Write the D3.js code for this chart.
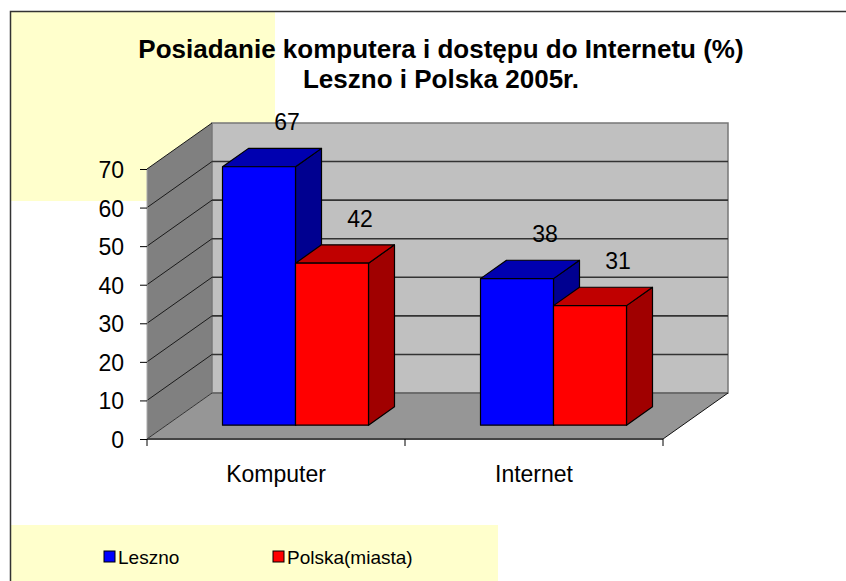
<!DOCTYPE html>
<html>
<head>
<meta charset="utf-8">
<script src="https://cdn.jsdelivr.net/npm/d3@7"></script>
<style>
  body { margin: 0; background: #fff; }
  text { font-family: "Liberation Sans", Arial, sans-serif; fill: #000; }
  .axis path { display: none; }
  .axis line { stroke: #000; }
</style>
</head>
<body>
<script>
// Chart data
var categories = ["Komputer", "Internet"];
var seriesNames = ["Leszno", "Polska(miasta)"];
var leszno = [67, 38];
var polska = [42, 31];
var yTicks = [0, 10, 20, 30, 40, 50, 60, 70];

var seriesValues = [leszno, polska];
var faceColors = [
  {front: "#0000ff", top: "#0000b0", side: "#000090"},
  {front: "#ff0000", top: "#c00000", side: "#a00000"}
];

var width = 846, height = 581;

// front plane of the 3D box, and depth offset of the back wall
var plot = {left: 147, right: 663, bottom: 439, top: 169},
    depth = {dx: 65, dy: 46},
    barDepth = [0.3, 0.7];

var xScale = d3.scaleBand().domain(categories).range([plot.left, plot.right]);
var groupWidth = 146;
var xInner = d3.scaleBand().domain(seriesNames)
    .range([(xScale.bandwidth() - groupWidth) / 2, (xScale.bandwidth() + groupWidth) / 2]);
var yScale = d3.scaleLinear().domain([0, 70]).range([plot.bottom, plot.top]);

// project a point (front-plane x, value, depth 0..1) to the screen
function proj(x, v, z) {
  return [x + z * depth.dx, yScale(v) - z * depth.dy];
}
function poly(pts) {
  return "M" + pts.map(function(p) { return p.join(","); }).join("L") + "Z";
}

var svg = d3.select("body").append("svg")
    .attr("width", width)
    .attr("height", height);

svg.append("rect").attr("width", width).attr("height", height).attr("fill", "#fff");

// pale yellow patches behind title corner and legend
svg.append("rect").attr("x", 10).attr("y", 11).attr("width", 265).attr("height", 190).attr("fill", "#ffffcc");
svg.append("rect").attr("x", 10).attr("y", 525).attr("width", 488).attr("height", 56).attr("fill", "#ffffcc");

// outer border
svg.append("path")
    .attr("d", "M10.5," + height + "V11.5H" + width)
    .attr("fill", "none").attr("stroke", "#333").attr("stroke-width", 1.5);

// walls and floor
var x0 = plot.left, x1 = plot.right, vTop = yTicks[yTicks.length - 1];

svg.append("path")
    .attr("d", poly([proj(x0, 0, 0), proj(x0, vTop, 0), proj(x0, vTop, 1), proj(x0, 0, 1)]))
    .attr("fill", "#808080");

svg.append("path")
    .attr("d", poly([proj(x0, 0, 0), proj(x1, 0, 0), proj(x1, 0, 1), proj(x0, 0, 1)]))
    .attr("fill", "#969696");

svg.append("path")
    .attr("d", poly([proj(x0, 0, 1), proj(x1, 0, 1), proj(x1, vTop, 1), proj(x0, vTop, 1)]))
    .attr("fill", "#c0c0c0")
    .attr("stroke", "#777").attr("stroke-width", 1.5);

// gridlines on back wall
svg.selectAll(".grid-back")
    .data(yTicks.filter(function(d) { return d > 0 && d < vTop; }))
  .enter().append("line")
    .attr("class", "grid-back")
    .attr("x1", function(d) { return proj(x0, d, 1)[0]; })
    .attr("y1", function(d) { return proj(x0, d, 1)[1]; })
    .attr("x2", function(d) { return proj(x1, d, 1)[0]; })
    .attr("y2", function(d) { return proj(x1, d, 1)[1]; })
    .attr("stroke", "#333").attr("stroke-width", 1.6);

// gridlines on side wall
svg.selectAll(".grid-side")
    .data(yTicks.filter(function(d) { return d > 0; }))
  .enter().append("line")
    .attr("class", "grid-side")
    .attr("x1", function(d) { return proj(x0, d, 0)[0]; })
    .attr("y1", function(d) { return proj(x0, d, 0)[1]; })
    .attr("x2", function(d) { return proj(x0, d, 1)[0]; })
    .attr("y2", function(d) { return proj(x0, d, 1)[1]; })
    .attr("stroke", "#1a1a1a").attr("stroke-width", 1);

// floor edges
svg.append("line")
    .attr("x1", proj(x0, 0, 1)[0]).attr("y1", proj(x0, 0, 1)[1])
    .attr("x2", proj(x1, 0, 1)[0]).attr("y2", proj(x1, 0, 1)[1])
    .attr("stroke", "#666").attr("stroke-width", 1.5);
svg.append("line")
    .attr("x1", proj(x0, 0, 0)[0]).attr("y1", proj(x0, 0, 0)[1])
    .attr("x2", proj(x0, 0, 1)[0]).attr("y2", proj(x0, 0, 1)[1])
    .attr("stroke", "#333").attr("stroke-width", 1);
svg.append("line")
    .attr("x1", proj(x1, 0, 0)[0]).attr("y1", proj(x1, 0, 0)[1])
    .attr("x2", proj(x1, 0, 1)[0]).attr("y2", proj(x1, 0, 1)[1])
    .attr("stroke", "#111").attr("stroke-width", 1);

// bars
var bars = [];
categories.forEach(function(c, i) {
  seriesNames.forEach(function(s, j) {
    bars.push({cat: c, series: j, value: seriesValues[j][i],
               x0: xScale(c) + xInner(s), x1: xScale(c) + xInner(s) + xInner.bandwidth()});
  });
});

var barG = svg.selectAll(".bar").data(bars).enter().append("g").attr("class", "bar");
var za = barDepth[0], zb = barDepth[1];

barG.append("path")
    .attr("d", function(d) { return poly([proj(d.x1, 0, za), proj(d.x1, 0, zb), proj(d.x1, d.value, zb), proj(d.x1, d.value, za)]); })
    .attr("fill", function(d) { return faceColors[d.series].side; });
barG.append("path")
    .attr("d", function(d) { return poly([proj(d.x0, d.value, za), proj(d.x1, d.value, za), proj(d.x1, d.value, zb), proj(d.x0, d.value, zb)]); })
    .attr("fill", function(d) { return faceColors[d.series].top; });
barG.append("path")
    .attr("d", function(d) { return poly([proj(d.x0, 0, za), proj(d.x1, 0, za), proj(d.x1, d.value, za), proj(d.x0, d.value, za)]); })
    .attr("fill", function(d) { return faceColors[d.series].front; });
barG.selectAll("path")
    .attr("stroke", "#000").attr("stroke-width", 1.2).attr("stroke-linejoin", "round");

// data labels
svg.selectAll(".label")
    .data(bars)
  .enter().append("text")
    .attr("class", "label")
    .attr("x", function(d) { return proj((d.x0 + d.x1) / 2, d.value, zb)[0] + 2; })
    .attr("y", function(d) { return proj((d.x0 + d.x1) / 2, d.value, zb)[1] - 18; })
    .attr("text-anchor", "middle")
    .style("font-size", "23px")
    .text(function(d) { return d.value; });

// y axis on the front plane
svg.append("line")
    .attr("x1", x0).attr("y1", yScale(0)).attr("x2", x0).attr("y2", yScale(vTop))
    .attr("stroke", "#aaa").attr("stroke-width", 1);
svg.append("g")
    .attr("class", "axis")
    .attr("transform", "translate(" + x0 + ",0)")
    .call(d3.axisLeft(yScale).tickValues(yTicks).tickSize(7).tickPadding(16))
    .selectAll("text")
    .style("font-size", "23px")
    .attr("dy", "0.37em");

// x axis: front floor edge, boundary ticks and category labels
svg.append("line")
    .attr("x1", x0).attr("y1", plot.bottom).attr("x2", x1).attr("y2", plot.bottom)
    .attr("stroke", "#444").attr("stroke-width", 2);
var bounds = categories.map(function(c) { return xScale(c); }).concat([x1]);
svg.selectAll(".xtick")
    .data(bounds)
  .enter().append("line")
    .attr("class", "xtick")
    .attr("x1", function(d) { return d; }).attr("x2", function(d) { return d; })
    .attr("y1", plot.bottom).attr("y2", plot.bottom + 7)
    .attr("stroke", "#000");
svg.append("g")
    .attr("class", "axis")
    .attr("transform", "translate(0," + plot.bottom + ")")
    .call(d3.axisBottom(xScale).tickSize(0).tickPadding(27))
    .selectAll("text")
    .style("font-size", "23px");

// title
var title = svg.append("text")
    .attr("x", 441).attr("y", 58)
    .attr("text-anchor", "middle")
    .style("font-size", "26px")
    .style("font-weight", "bold");
title.append("tspan").attr("x", 441).text("Posiadanie komputera i dostępu do Internetu (%)");
title.append("tspan").attr("x", 441).attr("dy", 30).text("Leszno i Polska 2005r.");

// legend
var legendX = [104, 273];
var legend = svg.selectAll(".legend")
    .data(seriesNames)
  .enter().append("g")
    .attr("class", "legend")
    .attr("transform", function(d, i) { return "translate(" + legendX[i] + ",551)"; });
legend.append("rect")
    .attr("width", 11).attr("height", 11)
    .attr("fill", function(d, i) { return faceColors[i].front; })
    .attr("stroke", "#000").attr("stroke-width", 1);
legend.append("text")
    .attr("x", 14).attr("y", 13)
    .style("font-size", "19px")
    .text(function(d) { return d; });
</script>
</body>
</html>
